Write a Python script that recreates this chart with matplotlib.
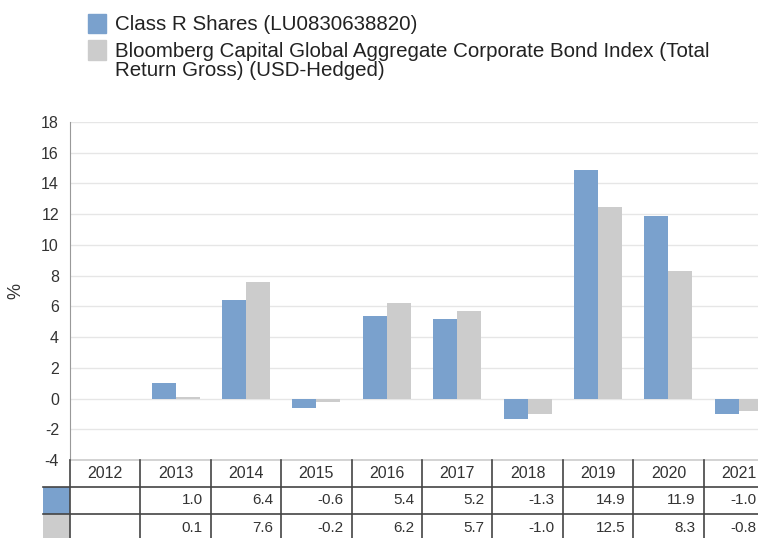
import numpy as np
import matplotlib.pyplot as plt
from matplotlib.patches import Rectangle

plt.rcParams['font.family'] = ['Liberation Sans', 'DejaVu Sans']
plt.rcParams['axes.unicode_minus'] = False

#%% Data
years = ['2012', '2013', '2014', '2015', '2016', '2017', '2018', '2019', '2020', '2021']
fund = [np.nan, 1.0, 6.4, -0.6, 5.4, 5.2, -1.3, 14.9, 11.9, -1.0]
index = [np.nan, 0.1, 7.6, -0.2, 6.2, 5.7, -1.0, 12.5, 8.3, -0.8]
fund_label = 'Class R Shares (LU0830638820)'
index_label = 'Bloomberg Capital Global Aggregate Corporate Bond Index (Total\nReturn Gross) (USD-Hedged)'

c_fund = '#7aa1cd'
c_index = '#cccccc'
txt = '#333333'

W, H = 758, 538
fig = plt.figure(figsize=(W / 100, H / 100), dpi=100)

# pixel geometry of the plot
x0, colw = 70, 70.4
top, bot = 122, 460
ax = fig.add_axes([x0 / W, (H - bot) / H, 10 * colw / W, (bot - top) / H])

x = np.arange(len(years))
bw = 0.34
ax.bar(x - bw / 2, fund, bw, color=c_fund, zorder=3)
ax.bar(x + bw / 2, index, bw, color=c_index, zorder=3)

ax.set_xlim(-0.5, 9.5)
ax.set_ylim(-4, 18)
ax.set_yticks(np.arange(-4, 19, 2))
ax.set_xticks([])
ax.grid(axis='y', color='#e6e6e6', lw=1, zorder=0)
for s in ['top', 'right', 'bottom']:
    ax.spines[s].set_visible(False)
ax.spines['left'].set_color('#999999')
ax.tick_params(axis='y', length=0, pad=8, labelsize=11.5, labelcolor=txt)
ax.set_ylabel('%', fontsize=13, color=txt, labelpad=12)

#%% Table under the chart
tab = fig.add_axes([x0 / W, (H - 541) / H, 10 * colw / W, 81 / H])
tab.set_xlim(-0.5, 9.5)
tab.set_ylim(3, 0)
tab.axis('off')
sw = 27 / colw
xmax_vis = (W - x0 - 2) / colw - 0.5   # right edge of the visible picture
tab.plot([-0.5, 9.5], [0, 0], color='#cccccc', lw=1.2, clip_on=False)
for r in [1, 2]:
    tab.plot([-0.5 - sw, 9.5], [r, r], color='#444444', lw=1.2, clip_on=False)
for k in range(11):
    tab.plot([k - 0.5, k - 0.5], [0, 3], color='#444444', lw=1.2, clip_on=False)
tab.add_patch(Rectangle((-0.5 - sw, 1), sw, 1, color=c_fund, clip_on=False, lw=0))
tab.add_patch(Rectangle((-0.5 - sw, 2), sw, 1, color=c_index, clip_on=False, lw=0))
pad = 8 / colw
for i, yr in enumerate(years):
    tab.text(i, 0.5, yr, ha='center', va='center', fontsize=11.5, color=txt)
    xr = min(i + 0.5 - pad, xmax_vis)
    if not np.isnan(fund[i]):
        tab.text(xr, 1.5, f'{fund[i]:.1f}', ha='right', va='center', fontsize=11, color=txt)
    if not np.isnan(index[i]):
        tab.text(xr, 2.5, f'{index[i]:.1f}', ha='right', va='center', fontsize=11, color=txt)

#%% Legend at the top
fig.add_artist(Rectangle((88 / W, 1 - 33 / H), 18 / W, 19 / H, color=c_fund, transform=fig.transFigure))
fig.add_artist(Rectangle((88 / W, 1 - 60 / H), 18 / W, 20 / H, color=c_index, transform=fig.transFigure))
fig.text(115 / W, 1 - 24 / H, fund_label, fontsize=14.8, color='#222222', va='center')
fig.text(115 / W, 1 - 42 / H, index_label, fontsize=14.8, color='#222222', va='top', linespacing=1.0)

fig.savefig('out.png', dpi=100)
